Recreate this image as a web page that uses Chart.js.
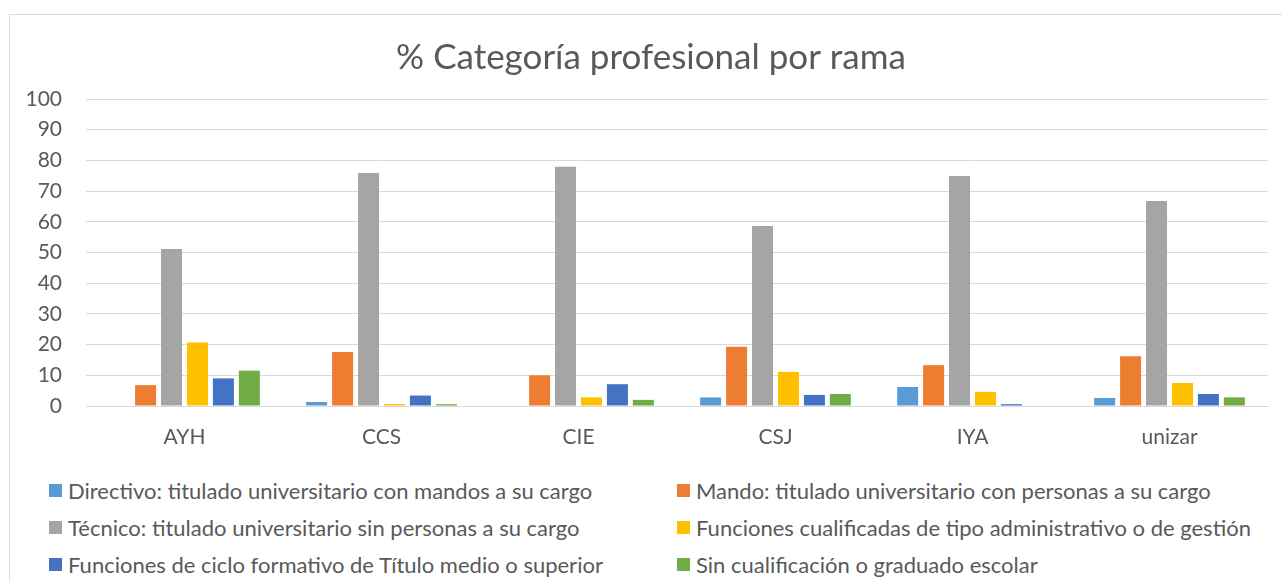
<!DOCTYPE html>
<html>
<head>
<meta charset="utf-8">
<script src="https://cdn.jsdelivr.net/npm/chart.js@4"></script>
<style>
  body { margin: 0; background: #fff; font-family: Lato, sans-serif; overflow: hidden; }
  #frame { position: absolute; left: 9px; top: 14px; width: 1400px; height: 700px; border: 1px solid #d9d9d9; }
  #wrap { position: absolute; left: 0; top: 0; width: 1302px; height: 460px; }
  #legend { position: absolute; left: 49px; top: 472px; width: 1233px; display: grid;
            grid-template-columns: 628px 600px; color: #595959; font-size: 22px; }
  .item { display: flex; align-items: center; height: 37px; white-space: nowrap; }
  .box { width: 13px; height: 13px; margin-right: 6px; flex: none; }
</style>
</head>
<body>
<div id="frame"></div>
<div id="wrap"><canvas id="chart" width="1302" height="460"></canvas></div>
<div id="legend"></div>
<script>
const ramas = ["AYH", "CCS", "CIE", "CSJ", "IYA", "unizar"];
const directivo = [0, 1.3, 0, 2.8, 6.2, 2.6];
const mando = [6.8, 17.6, 10.0, 19.3, 13.3, 16.2];
const tecnico = [51.1, 75.9, 77.9, 58.6, 74.9, 66.8];
const funcAdmin = [20.7, 0.6, 2.8, 11.1, 4.6, 7.5];
const cicloFormativo = [9.0, 3.4, 7.1, 3.6, 0.6, 3.9];
const sinCualificacion = [11.5, 0.6, 2.0, 3.9, 0, 2.8];

const gris = "#595959";

// el título de Excel va centrado en todo el marco, no solo en la zona del gráfico
const moverTitulo = {
  id: "moverTitulo",
  beforeDraw(chart) {
    if (chart.titleBlock) chart.titleBlock.left = 34;
  },
};

const chart = new Chart(document.getElementById("chart").getContext("2d"), {
  type: "bar",
  data: {
    labels: ramas,
    datasets: [
      { label: "Directivo: titulado universitario con mandos a su cargo", data: directivo, backgroundColor: "#5B9BD5" },
      { label: "Mando: titulado universitario con personas a su cargo", data: mando, backgroundColor: "#ED7D31" },
      { label: "Técnico: titulado universitario sin personas a su cargo", data: tecnico, backgroundColor: "#A5A5A5" },
      { label: "Funciones cualificadas de tipo administrativo o de gestión", data: funcAdmin, backgroundColor: "#FFC000" },
      { label: "Funciones de ciclo formativo de Título medio o superior", data: cicloFormativo, backgroundColor: "#4472C4" },
      { label: "Sin cualificación o graduado escolar", data: sinCualificacion, backgroundColor: "#70AD47" },
    ],
  },
  options: {
    responsive: false,
    animation: false,
    categoryPercentage: 0.79,
    barPercentage: 0.81,
    layout: { padding: { left: 0, right: 34, top: 0, bottom: 0 } },
    plugins: {
      legend: { display: false },
      tooltip: { enabled: false },
      title: {
        display: true,
        text: "% Categoría profesional por rama",
        color: gris,
        font: { family: "Lato", size: 35, weight: "normal" },
        padding: { top: 37, bottom: 20 },
      },
    },
    scales: {
      x: {
        grid: { display: false, drawTicks: false },
        border: { display: true, color: "#d9d9d9" },
        ticks: { color: gris, padding: 19, font: { family: "Lato", size: 21 } },
        afterFit: (scale) => { scale.height = 54; },
      },
      y: {
        min: 0,
        max: 100,
        ticks: { stepSize: 10, color: gris, padding: 24, font: { family: "Lato", size: 21 } },
        grid: { color: "#d9d9d9", drawTicks: false },
        border: { display: false },
        afterFit: (scale) => { scale.width = 86; },
      },
    },
  },
  plugins: [moverTitulo],
});

// leyenda en dos columnas, como en Excel
const legend = document.getElementById("legend");
chart.data.datasets.forEach((ds) => {
  const item = document.createElement("div");
  item.className = "item";
  const box = document.createElement("span");
  box.className = "box";
  box.style.background = ds.backgroundColor;
  const txt = document.createElement("span");
  txt.textContent = ds.label;
  item.appendChild(box);
  item.appendChild(txt);
  legend.appendChild(item);
});
</script>
</body>
</html>
